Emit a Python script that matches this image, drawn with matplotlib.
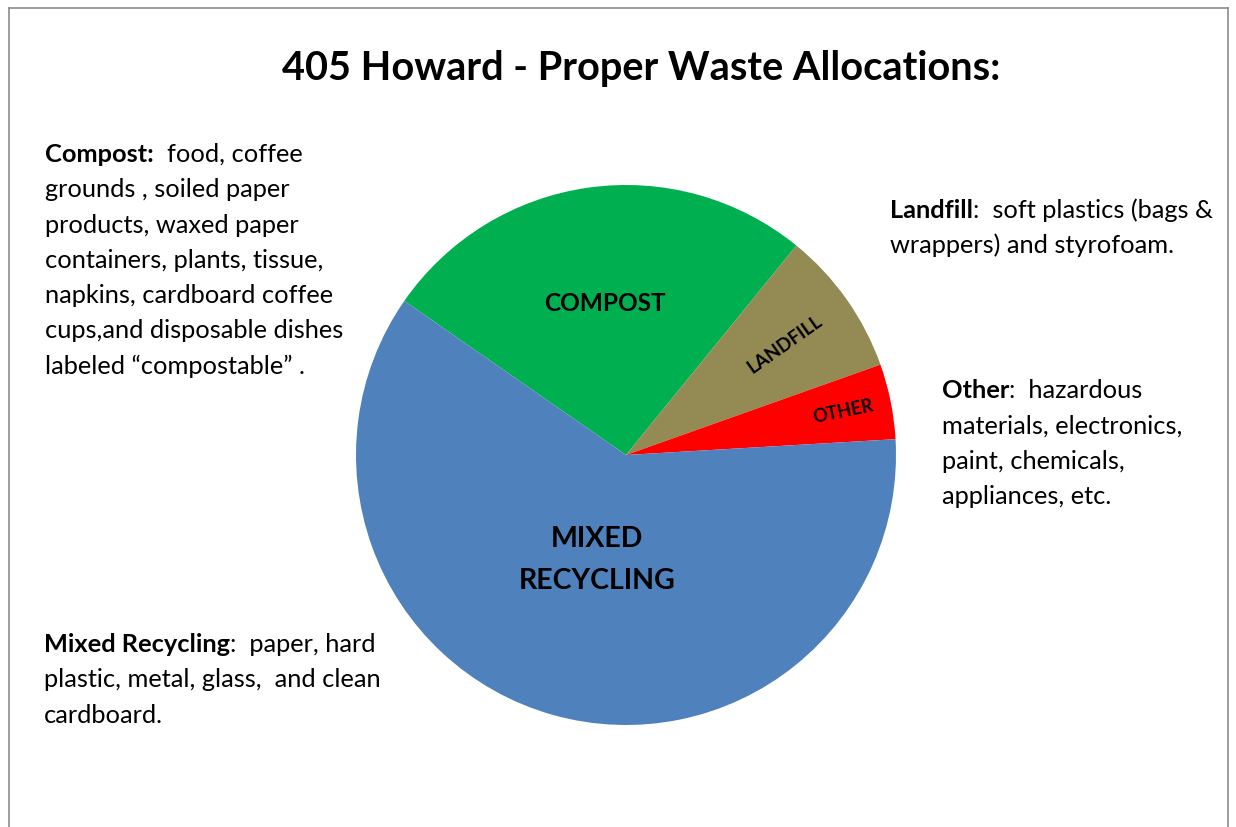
import matplotlib
matplotlib.use("Agg")
import matplotlib.pyplot as plt
from matplotlib.lines import Line2D
import numpy as np

plt.rcParams["font.family"] = ["Lato", "DejaVu Sans"]

# data (percent of the pie)
categories = ["Compost", "Landfill", "Other", "Mixed Recycling"]
shares = [26.2, 8.7, 4.5, 60.6]
slice_labels = ["COMPOST", "LANDFILL", "OTHER", "MIXED\nRECYCLING"]
colors = ["#00B050", "#948A54", "#FF0000", "#4F81BD"]

title = "405 Howard - Proper Waste Allocations:"

notes = {
    "Compost": ("Compost:", "  food, coffee", [
        "grounds , soiled paper",
        "products, waxed paper",
        "containers, plants, tissue,",
        "napkins, cardboard coffee",
        "cups,and disposable dishes",
        "labeled \u201ccompostable\u201d .",
    ]),
    "Landfill": ("Landfill", ":  soft plastics (bags &", [
        "wrappers) and styrofoam.",
    ]),
    "Other": ("Other", ":  hazardous", [
        "materials, electronics,",
        "paint, chemicals,",
        "appliances, etc.",
    ]),
    "Mixed Recycling": ("Mixed Recycling", ":  paper, hard", [
        "plastic, metal, glass,  and clean",
        "cardboard.",
    ]),
}

W, H = 1236, 828
fig = plt.figure(figsize=(W / 100, H / 100), dpi=100)
fig.patch.set_facecolor("white")

# chart frame (bottom edge is cut off in the reference)
frame = dict(color="#8c8c8c", lw=1.2, transform=fig.transFigure)
fig.add_artist(Line2D([9 / W, 1228 / W], [1 - 9 / H, 1 - 9 / H], **frame))
fig.add_artist(Line2D([9 / W, 9 / W], [0, 1 - 9 / H], **frame))
fig.add_artist(Line2D([1228 / W, 1228 / W], [0, 1 - 9 / H], **frame))

fig.text(641 / W, 1 - 80 / H, title, ha="center", va="baseline",
         fontsize=28.6, fontweight="bold")

# pie
cx, cy, r = 626, 456, 270
ax = fig.add_axes([(cx - r) / W, 1 - (cy + r) / H, 2 * r / W, 2 * r / H])
wedges, _ = ax.pie(shares, colors=colors, startangle=145.2, counterclock=False,
                   radius=1, wedgeprops=dict(linewidth=0))
ax.set_xlim(-1, 1)
ax.set_ylim(-1, 1)
ax.axis("off")

label_dist = [0.57, 0.72, 0.82, 0.40]
label_size = [17.6, 13.5, 13, 20.5]
label_rot = [False, True, True, False]
for w, lab, d, fs, rot in zip(wedges, slice_labels, label_dist, label_size, label_rot):
    mid = np.deg2rad((w.theta1 + w.theta2) / 2)
    ang = (w.theta1 + w.theta2) / 2 if rot else 0
    ax.text(d * np.cos(mid), d * np.sin(mid), lab, ha="center", va="center",
            fontsize=fs, fontweight="bold", rotation=ang, linespacing=1.75)

# side notes: bold heading + normal text, one line at a time
note_pos = {
    "Compost": (45, 162),
    "Landfill": (890, 218),
    "Other": (942, 398),
    "Mixed Recycling": (44, 652),
}
step = 35.3
fs = 18.3
for key in categories:
    head, rest, lines = notes[key]
    x, y = note_pos[key]
    t = fig.text(x / W, 1 - y / H, head, fontsize=fs, fontweight="bold",
                 va="baseline", ha="left")
    fig.draw_without_rendering()
    bb = t.get_window_extent()
    fig.text(bb.x1 / W, 1 - y / H, rest, fontsize=fs, va="baseline", ha="left")
    for i, ln in enumerate(lines, start=1):
        fig.text(x / W, 1 - (y + i * step) / H, ln, fontsize=fs,
                 va="baseline", ha="left")

fig.savefig("out.png", dpi=100)
